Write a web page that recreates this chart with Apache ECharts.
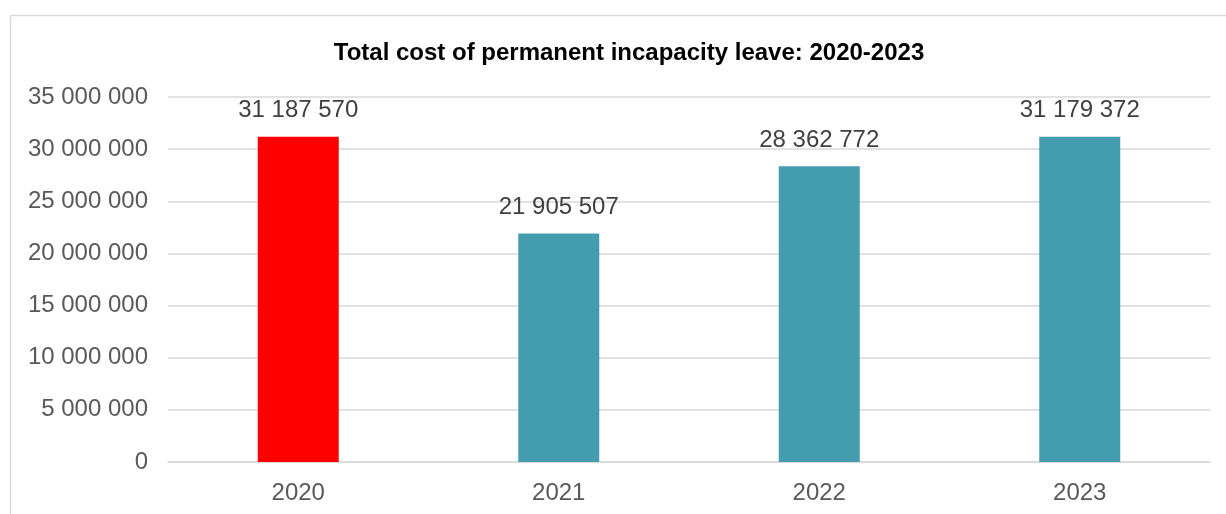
<!DOCTYPE html>
<html>
<head>
<meta charset="utf-8">
<script src="https://cdn.jsdelivr.net/npm/echarts@6/dist/echarts.min.js"></script>
<style>
html,body{margin:0;padding:0;background:#fff;}
#chart{width:1226px;height:514px;}
</style>
</head>
<body>
<div id="chart"></div>
<script>
const categories = ['2020', '2021', '2022', '2023'];
const values = [31187570, 21905507, 28362772, 31179372];
const barColors = ['#FF0000', '#449DAF', '#449DAF', '#449DAF'];
const titleText = 'Total cost of permanent incapacity leave: 2020-2023';

function fmt(v) {
  return String(v).replace(/\B(?=(\d{3})+(?!\d))/g, ' ');
}

const FONT = 'Liberation Sans, Arial, sans-serif';
const chart = echarts.init(document.getElementById('chart'), null, {renderer: 'canvas'});
chart.setOption({
  animation: false,
  graphic: [{
    type: 'rect',
    shape: {x: 10.5, y: 15.5, width: 1240, height: 520},
    style: {fill: 'none', stroke: '#D9D9D9', lineWidth: 1.5},
    silent: true
  }],
  title: {
    text: titleText,
    left: 624, top: 36,
    textAlign: 'center',
    textStyle: {fontFamily: FONT, fontWeight: 'bold', fontSize: 24, color: '#000'}
  },
  grid: {left: 168, right: 16, top: 97, bottom: 52, containLabel: false},
  xAxis: {
    type: 'category',
    data: categories,
    axisLine: {lineStyle: {color: '#D9D9D9', width: 1.5}},
    axisTick: {show: false},
    axisLabel: {color: '#595959', fontSize: 24, fontFamily: FONT, margin: 19}
  },
  yAxis: {
    type: 'value',
    min: 0, max: 35000000, interval: 5000000,
    axisLine: {show: false},
    axisTick: {show: false},
    splitLine: {lineStyle: {color: '#D9D9D9', width: 1.5}},
    axisLabel: {color: '#595959', fontSize: 24, fontFamily: FONT, margin: 20, formatter: fmt}
  },
  series: [{
    type: 'bar',
    data: values.map((v, i) => ({value: v, itemStyle: {color: barColors[i]}})),
    barWidth: 81,
    label: {
      show: true, position: 'top', distance: 14,
      color: '#404040', fontSize: 24, fontFamily: FONT,
      formatter: p => fmt(p.value)
    }
  }]
});
</script>
</body>
</html>
